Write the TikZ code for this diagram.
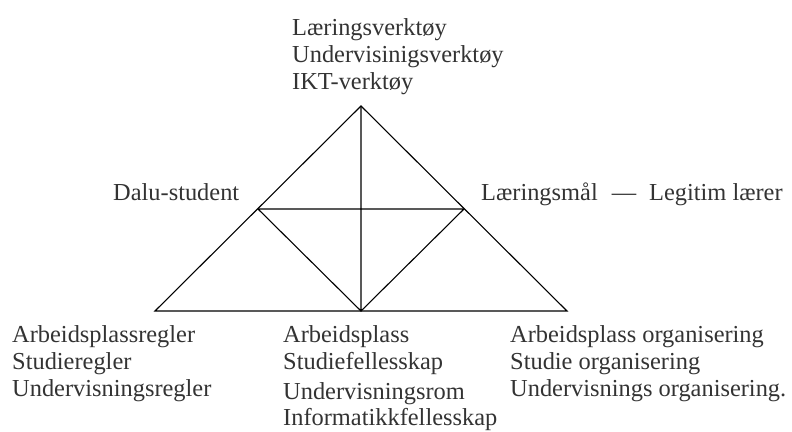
\documentclass[tikz,border=0pt]{standalone}
\usepackage{fontspec}
\setmainfont{Liberation Serif}
\usepackage{tikz}
\usetikzlibrary{positioning}
\tikzstyle{lbl}=[anchor=base west, inner sep=0pt, align=left, text=black!80, font=\fontsize{24.4}{27}\selectfont]
\tikzstyle{edgeline}=[draw, line width=1.1pt, line join=miter]
\begin{document}
\begin{tikzpicture}[x=1pt, y=-1pt]
      % \draw[help lines] (0,0) grid (792,431);
      \useasboundingbox (0,0) rectangle (792,431);
      \coordinate (T) at (361,106);
      \coordinate (L) at (258,209);
      \coordinate (R) at (464,209);
      \coordinate (BL) at (155,311);
      \coordinate (BM) at (361,311);
      \coordinate (BR) at (567,311);

      \path [edgeline] (T) -- (BL) -- (BR) -- cycle;
      \path [edgeline] (T) -- (BM)
                       (L) -- (R)
                       (L) -- (BM) -- (R);

      % multi-line nodes sit on the baseline of their last line
      \node [lbl] (tools) at (292,89) {Læringsverktøy\\Undervisinigsverktøy\\IKT-verktøy};
      \node [lbl] (subject) at (113,200) {Dalu-student};
      \node [lbl] (object) at (481,200) {Læringsmål\hspace{14pt}—\hspace{13pt}Legitim lærer};
      \node [lbl] (rules) at (12,396) {Arbeidsplassregler\\Studieregler\\Undervisningsregler};
      \node [lbl] (community) at (283,425) {Arbeidsplass\\Studiefellesskap\\[3pt]Undervisningsrom\\[-1pt]Informatikkfellesskap};
      \node [lbl] (division) at (510,396) {Arbeidsplass organisering\\Studie organisering\\Undervisnings organisering.};
\end{tikzpicture}
\end{document}
